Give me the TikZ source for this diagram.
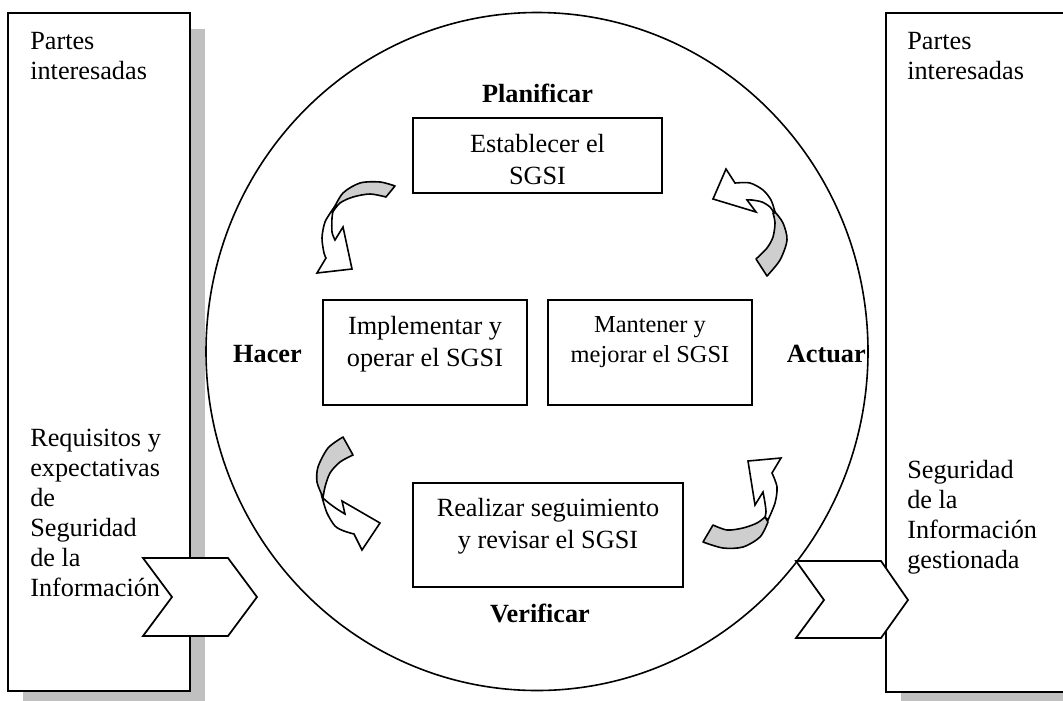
\documentclass[tikz,border=0pt]{standalone}
\usepackage{fontspec}
\setmainfont{Liberation Serif}
\usetikzlibrary{shapes.geometric,shadows}
\definecolor{shadowgray}{RGB}{192,192,192}
\definecolor{bandgray}{RGB}{206,206,206}
\begin{document}
\begin{tikzpicture}[x=0.75pt,y=-0.75pt,
  sidetxt/.style={font=\fontsize{19.7}{22.5}\selectfont, inner sep=0pt, align=left, anchor=north west},
  boxtxt/.style={font=\fontsize{19.7}{24}\selectfont, inner sep=0pt, align=center, anchor=north},
  phase/.style={font=\fontsize{19.7}{22.5}\selectfont\bfseries, inner sep=0pt},
  party/.style={draw, line width=1.4pt, fill=white, inner sep=0pt,
    drop shadow={shadow xshift=11.25pt, shadow yshift=-11.75pt, fill=shadowgray, opacity=1}},
  stage/.style={draw, line width=1.3pt, fill=white, inner sep=0pt},
  band/.style={draw, line width=1.2pt, fill=bandgray, line join=round},
  head/.style={draw, line width=1.2pt, fill=white, line join=miter},
  chevron/.style={draw, line width=1.3pt, fill=white, line join=miter}]

\useasboundingbox (0,0) rectangle (1063,700);
\clip (0,0) rectangle (1063,700);

% stakeholder columns
\node[party, minimum width=136.5pt, minimum height=508.5pt] (left) at (99,352) {};
\node[party, minimum width=149.25pt, minimum height=509.25pt] (right) at (985.5,352.5) {};

% PDCA cycle
\node[draw, ellipse, line width=1.2pt, inner sep=0pt,
      minimum width=496.5pt, minimum height=508.5pt] (cyc) at (537,351.5) {};

% the four stages
\node[stage, minimum width=186.75pt, minimum height=56.25pt] (plan) at (537.5,155.5) {};
\node[stage, minimum width=153pt, minimum height=78.75pt] (do) at (425,352.5) {};
\node[stage, minimum width=153pt, minimum height=78.75pt] (act) at (650,352.5) {};
\node[stage, minimum width=202.5pt, minimum height=78pt] (check) at (548,535) {};

\node[boxtxt] (plantxt) at ([yshift=-12.75pt]plan.north) {Establecer el\\SGSI};
\node[boxtxt] (dotxt) at ([yshift=-12.75pt]do.north) {Implementar y\\operar el SGSI};
\node[boxtxt, font=\fontsize{18.3}{22.5}\selectfont] (acttxt) at ([yshift=-12.75pt]act.north) {Mantener y\\mejorar el SGSI};
\node[boxtxt] (checktxt) at ([yshift=-12pt]check.north) {Realizar seguimiento\\y revisar el SGSI};

% phase labels
\node[phase, anchor=base] (planlbl) at (537.5,102) {Planificar};
\node[phase, anchor=base] (dolbl) at (267.5,362) {Hacer};
\node[phase, anchor=base east] (actlbl) at (866,362) {Actuar};
\node[phase, anchor=base] (checklbl) at (540,622) {Verificar};

% curved arrow: plan -> do
\filldraw[band] plot[smooth] coordinates {(395,186) (380,182) (360,183) (343,193) (333,210)}
  -- plot[smooth] coordinates {(332,213) (340,203) (353,197) (370,194) (386,197)} -- cycle;
\filldraw[head] plot[smooth] coordinates {(333,209) (325,222) (322,238) (324,253) (326,258)}
  -- (317,273) -- (352,269) -- (343,227) -- (335,240)
  -- plot[smooth] coordinates {(335,240) (332,232) (332,218) (333,211)} -- cycle;

% curved arrow: act -> plan
\filldraw[band] plot[smooth] coordinates {(767,276) (780,260) (787,240) (783,223) (775,212)}
  -- plot[smooth] coordinates {(773,213) (775,223) (773,237) (767,248) (756,259)} -- cycle;
\filldraw[head] plot[smooth] coordinates {(775,212) (771,200) (763,190) (750,183) (735,183)}
  -- (726,169) -- (713,199) -- (756,212) -- (747,200)
  -- plot[smooth] coordinates {(747,200) (752,200) (762,202) (770,207) (774,213)} -- cycle;

% curved arrow: do -> check
\filldraw[band] plot[smooth] coordinates {(343,437) (328,448) (318,467) (317,482) (322,495)}
  -- plot[smooth] coordinates {(323,498) (325,487) (330,473) (340,462) (353,455)} -- cycle;
\filldraw[head] plot[smooth] coordinates {(322,497) (327,513) (335,526) (344,531) (354,534)}
  -- (362,550) -- (380,523) -- (342,501) -- (345,514)
  -- plot[smooth] coordinates {(345,514) (337,509) (330,504) (324,499)} -- cycle;

% curved arrow: check -> act
\filldraw[band] plot[smooth] coordinates {(703,542) (723,548) (743,547) (760,537) (768,522)}
  -- plot[smooth] coordinates {(765,517) (757,523) (743,528) (727,530) (713,525)} -- cycle;
\filldraw[head] plot[smooth] coordinates {(768,520) (775,503) (777,487) (772,473)}
  -- (781,458) -- (748,461) -- (755,505) -- (763,492)
  -- plot[smooth] coordinates {(763,492) (765,503) (766,512) (765,517)} -- cycle;

% input and output chevrons
\draw[chevron] (143,558) -- (228,558) -- (257,597) -- (228,636) -- (143,636) -- (172,597) -- cycle;
\draw[chevron] (796,561) -- (881,561) -- (908,600) -- (881,638) -- (796,638) -- (824,600) -- cycle;

% stakeholder texts
\node[sidetxt] (lparty) at (30,32.5) {Partes\\interesadas};
\node[sidetxt] (lreq) at (30,429) {Requisitos y\\expectativas\\de\\Seguridad\\de la\\Información};
\node[sidetxt] (rparty) at (907,32.5) {Partes\\interesadas};
\node[sidetxt] (rout) at (907,460) {Seguridad\\de la\\Información\\gestionada};
\end{tikzpicture}
\end{document}
